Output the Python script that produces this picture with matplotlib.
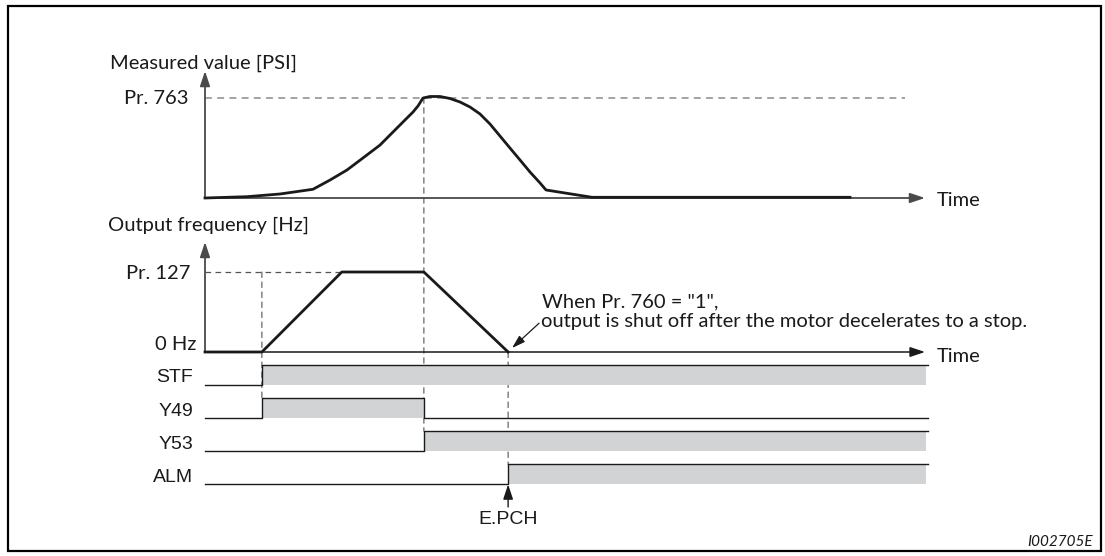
import matplotlib
matplotlib.use("Agg")
import matplotlib.pyplot as plt
from matplotlib.patches import Rectangle, ConnectionPatch

# ---------------- data ----------------
# time axis in arbitrary units (0 .. 100 = length of time axis)
pv_time = [0, 5.83, 10.42, 15.0, 17.36, 19.72, 21.94, 24.31, 26.67, 27.78, 28.89,
           29.58, 30.28, 31.25, 32.64, 34.03, 35.42, 36.81, 38.19, 39.58, 40.97,
           42.36, 43.75, 45.14, 46.53, 47.36, 53.75, 89.58]
pv_value = [0, 0.013, 0.040, 0.087, 0.179, 0.279, 0.399, 0.528, 0.698, 0.778, 0.857,
            0.917, 0.997, 1.012, 1.012, 0.992, 0.957, 0.907, 0.838, 0.738, 0.618,
            0.498, 0.379, 0.259, 0.150, 0.080, 0.007, 0.007]          # 1 = Pr. 763

f_time = [0, 7.9, 19.0, 30.4, 42.1]
f_value = [0, 0, 1, 1, 0]                                              # 1 = Pr. 127

signal_names = ["STF", "Y49", "Y53", "ALM"]
signal_on = [7.9, 7.9, 30.4, 42.1]
signal_off = [100.4, 30.4, 100.4, 100.4]
signal_end = 100.4

t_stf = 7.9
t_decel = 30.4
t_stop = 42.1
pv_level_end = 97.2
time_axis_end = 100.0

pv_label = "Measured value [PSI]"
f_label = "Output frequency [Hz]"
pv_tick = "Pr. 763"
f_tick_hi = "Pr. 127"
f_tick_lo = "0 Hz"
note_lines = ['When Pr. 760 = "1",', "output is shut off after the motor decelerates to a stop."]
alarm_label = "E.PCH"
fig_id = "I002705E"

# ---------------- layout ----------------
W, H = 1105, 556
fig = plt.figure(figsize=(W / 100, H / 100), dpi=100)
MY = ["Lato", "DejaVu Sans"]
AR = ["Liberation Sans", "DejaVu Sans"]
FS = 14.5

def fx(x):
    return x / W

def fy(y):
    return 1 - y / H

X0, X1 = 205, 925  # time 0 .. 100

def make_ax(ytop, ybot, ylim):
    ax = fig.add_axes([fx(X0), fy(ybot), (X1 - X0) / W, (ybot - ytop) / H])
    ax.set_xlim(0, 100)
    ax.set_ylim(*ylim)
    ax.axis("off")
    return ax

ax_pv = make_ax(97.7, 198, (0, 1))
ax_f = make_ax(272, 352, (0, 1))
unit = 33.2
ax_s = make_ax(484.4 - 3.8 * unit, 484.4 + 0.5 * unit, (-0.5, 3.8))

axis_col = "#4a4a4a"
black = "#1a1a1a"
fill_col = "#d1d3d4"

arrow_kw = dict(arrowstyle="-|>,head_length=0.9,head_width=0.3", color=black,
                lw=1.3, shrinkA=0, shrinkB=0)

# ---- measured value panel ----
ax_pv.annotate("", xy=(0, 1.266), xytext=(0, 0), arrowprops=dict(arrow_kw, color=axis_col),
               annotation_clip=False)
ax_pv.annotate("", xy=(time_axis_end, 0), xytext=(0, 0),
               arrowprops=dict(arrow_kw, color=axis_col), annotation_clip=False)
ax_pv.plot([0, pv_level_end], [1, 1], color="#8a8a8a", lw=1.1, ls=(0, (4.5, 3.5)), clip_on=False)
ax_pv.plot(pv_time, pv_value, color=black, lw=2.0, clip_on=False, solid_joinstyle="round",
           zorder=5)

# ---- frequency panel ----
ax_f.annotate("", xy=(0, 1.375), xytext=(0, 0), arrowprops=dict(arrow_kw, color=axis_col),
              annotation_clip=False)
ax_f.annotate("", xy=(time_axis_end, 0), xytext=(0, 0), arrowprops=dict(arrow_kw, lw=1.1),
              annotation_clip=False)
ax_f.plot([0, f_time[2]], [1, 1], color="#555555", lw=0.9, ls=(0, (4.5, 3.5)), clip_on=False)
ax_f.plot(f_time, f_value, color=black, lw=2.0, clip_on=False, zorder=5)

# ---- signal panel ----
hi = 0.6
for i, name in enumerate(signal_names):
    b = len(signal_names) - 1 - i
    on, off = signal_on[i], signal_off[i]
    ax_s.fill_between([on, off], b, b + hi, color=fill_col, lw=0, zorder=1)
    xs = [0, on, on, off]
    ys = [b, b, b + hi, b + hi]
    if off < signal_end:
        xs += [off, signal_end]
        ys += [b, b]
    ax_s.plot(xs, ys, color=black, lw=1.0, clip_on=False, zorder=3)
    ax_s.text(-12 / 7.2, b + 0.21, name, ha="right", va="center",
              fontsize=14, family=AR, color=black)

# ---- vertical dashed guides ----
dash_kw = dict(color="#555555", lw=0.8, ls=(0, (5, 4)), zorder=0)
fig.add_artist(ConnectionPatch((t_decel, 1), (t_decel, 1 + hi), "data", "data",
                               axesA=ax_pv, axesB=ax_s, **dash_kw))
fig.add_artist(ConnectionPatch((t_stf, 1), (t_stf, 2 + hi), "data", "data",
                               axesA=ax_f, axesB=ax_s, **dash_kw))
fig.add_artist(ConnectionPatch((t_stop, 0), (t_stop, 0 + hi), "data", "data",
                               axesA=ax_f, axesB=ax_s, **dash_kw))

# alarm arrow
ax_s.annotate("", xy=(t_stop, 0), xytext=(t_stop, -0.68),
              arrowprops=dict(arrow_kw, lw=1.0), annotation_clip=False)

# ---------------- texts ----------------
fig.text(fx(110), fy(63), pv_label, ha="left", va="center", fontsize=FS, family=MY, color=black)
fig.text(fx(108), fy(225), f_label, ha="left", va="center", fontsize=FS, family=MY, color=black)
fig.text(fx(189), fy(98), pv_tick, ha="right", va="center", fontsize=FS, family=MY, color=black)
fig.text(fx(190), fy(273), f_tick_hi, ha="right", va="center", fontsize=FS, family=MY, color=black)
fig.text(fx(196), fy(344), f_tick_lo, ha="right", va="center", fontsize=FS, family=MY, color=black)
fig.text(fx(937), fy(200), "Time", ha="left", va="center", fontsize=FS, family=MY, color=black)
fig.text(fx(937), fy(356), "Time", ha="left", va="center", fontsize=FS, family=MY, color=black)
fig.text(fx(542), fy(302), note_lines[0], ha="left", va="center", fontsize=FS, family=MY, color=black)
fig.text(fx(541), fy(322), note_lines[1], ha="left", va="center", fontsize=FS, family=MY, color=black)
fig.text(fx(508), fy(520), alarm_label, ha="center", va="center", fontsize=14, family=AR, color=black)
fig.text(fx(1093), fy(542), fig_id, ha="right", va="center", fontsize=11, family=MY,
         style="italic", color=black)

# annotation arrow
ax_f.annotate("", xy=(t_stop + 0.55, 0.05), xytext=(t_stop + 4.3, 0.36),
              arrowprops=dict(arrowstyle="-|>,head_length=0.8,head_width=0.25", color=black,
                              lw=0.9, shrinkA=0, shrinkB=0), annotation_clip=False)

# border
fig.add_artist(Rectangle((fx(8), fy(551)), (1101 - 8) / W, (551 - 6) / H, transform=fig.transFigure,
                         fill=False, edgecolor="black", lw=1.6))

fig.savefig("out.png", dpi=100)
